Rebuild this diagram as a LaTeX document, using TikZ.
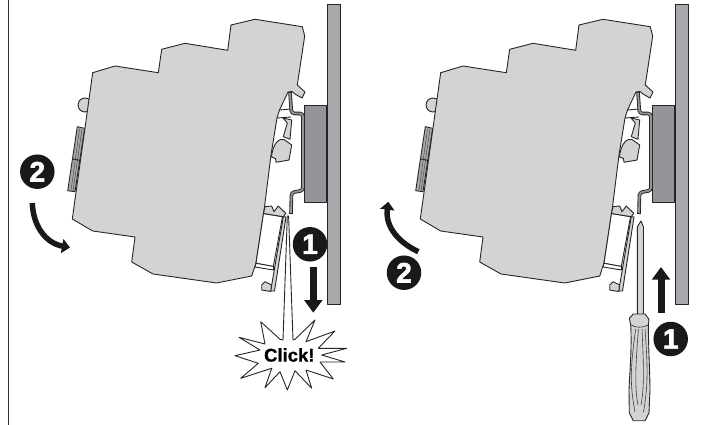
\documentclass[tikz,border=0pt]{standalone}
\usepackage{fontspec}
\setmainfont{Liberation Sans}
\newfontfamily\badgefont[BoldFeatures={FakeBold=2.2}]{Liberation Sans}
\newfontfamily\clickfont[BoldFeatures={FakeBold=0.8}]{Liberation Sans}
\usetikzlibrary{arrows.meta}

\definecolor{bodygray}{HTML}{D1D3D4}
\definecolor{panelgray}{HTML}{A7A9AC}
\definecolor{railgray}{HTML}{939598}

\tikzset{
  outline/.style={draw=black!85, line width=0.9pt, line join=round},
  badge/.style={circle, fill=black!90, text=white, minimum size=34.5pt, inner sep=0pt, font=\badgefont\fontsize{28}{28}\selectfont\bfseries},
  straightarrow/.style={black!90, line width=7pt, -{Triangle[width=17.5pt,length=12.5pt]}},
  turnarrow/.style={black!90, line width=5.5pt, -{Triangle[width=14pt,length=8pt]}},
}

\begin{document}
\begin{tikzpicture}[x=1pt, y=-1pt]
\useasboundingbox (0,0) rectangle (702,425);

% Left border line
\draw[black!80, line width=0.9pt] (8.5,0) -- (8.5,425);

% The two mounted modules
\foreach \dx in {0,348} {
\begin{scope}[shift={(\dx,0)}]

% Panel and mounting block
\draw[outline, fill=panelgray] (327.7,4) rectangle (340.7,304);
\draw[outline, fill=railgray] (304.3,105.3) rectangle (326.7,202.3);

% Knob and left clip
\draw[outline, fill=bodygray] (85,105) circle[radius=7];
\draw[outline, fill=panelgray] (77.3,126.7) -- (84.7,128.3) -- (75,191.7) -- (67.7,190.7) -- cycle;
\draw[line width=0.5pt, black!70] (79.5,129) -- (71,190.5) (82,129) -- (73,191);
\draw[line width=0.9pt, black!85] (73,159) -- (80.5,160.5);

% Housing
\draw[outline, fill=bodygray] (92.7,72.7) -- (115,66) -- (158.3,72.7) -- (161.7,49.3) -- (185,43.3)
  -- (227.7,50.3) -- (231,25) -- (255,19.3) -- (302.3,26.7) -- (304.7,36) -- (297.3,85)
  -- (305,92) -- (302,98) -- (295,94) -- (292,91.5) -- (288,92) -- (279.5,110) -- (277,118)
  -- (271,155) -- (264.5,207) -- (256,263) -- (251.7,276) -- (216.7,283) -- (153,274)
  -- (131.7,262) -- (135,237) -- (92.7,231) -- (72.3,219) -- cycle;

% Upper latch
\draw[outline] (279.5,110) -- (291,109) (277,118) -- (291,117);
\draw[outline, fill=bodygray] (291.7,120) -- (290,139.3) -- (283.3,136.7) -- (287.3,123) -- (283,118) -- cycle;
\draw[outline, fill=bodygray] (271.5,157) .. controls (273,142) and (280,138) .. (284,139.5)
  -- (291.7,145) -- (289,160) -- (276,162.3) -- (275.5,158.5) -- cycle;

% Lower slider
\draw[outline, fill=white] (263.5,213.5) -- (282.5,216.7) -- (273.3,266.5) -- (256,263.3) -- cycle;
\draw[outline, fill=bodygray] (265,206.7) -- (271.7,206) -- (274,211.7) -- (278.3,206) -- (285.7,213.3) -- (283.3,216.7) -- (263.5,213.5) -- cycle;
\draw[outline, fill=bodygray] (283.3,216.7) -- (286,217) -- (274.5,291) -- (270.7,291) -- cycle;
\draw[outline, fill=white] (256,263.3) -- (273.8,266.5) -- (273.3,270) -- (255,267) -- cycle;
\draw[outline, fill=bodygray] (261.7,285) -- (265,281.7) -- (271.5,285) -- (270.7,291.5) -- (261.7,290) -- cycle;

% Rail profile
\draw[rounded corners=3pt, line width=3.6pt, black!85] (290,92) -- (291.5,113.5) -- (303,113.5) -- (303,190.5) -- (291.5,192.5) -- (291,214);
\draw[rounded corners=3pt, line width=1.8pt, railgray] (290,92.8) -- (291.5,113.5) -- (303,113.5) -- (303,190.5) -- (291.5,192.5) -- (291,213.2);

\end{scope}
}

% Click burst
\draw[outline, fill=white] (260.7,321.7) -- (280,339.3) -- (283,340) -- (287.3,216) -- (288.6,216) -- (293,340) -- (295,339.3)
  -- (315,320) -- (306,341.7) -- (335,331) -- (318.3,348.3) -- (346.7,348.3) -- (321.7,355)
  -- (345,362) -- (320,362) -- (333.3,379) -- (306,370) -- (311.7,388.3) -- (295,370.7)
  -- (287.3,390) -- (280,371.7) -- (265,387.7) -- (271.7,368.3) -- (240.7,378.3) -- (258.3,363.3)
  -- (235,355.7) -- (260,350) -- (239,337.3) -- (265,344) -- cycle;
\node (click) at (289.3,355) {\clickfont\fontsize{18.5}{18.5}\selectfont\bfseries Click!};

% Screwdriver
\draw[outline, fill=bodygray] (641,221) -- (643.5,227) -- (643.5,315) -- (637.3,315) -- (637.3,227) -- cycle;
\draw[outline, fill=bodygray] (633.3,314) -- (645,314) -- (649,319.3) -- (648.3,325)
  .. controls (648.5,350) and (650,375) .. (650,390) -- (649,413) -- (645,420.7) -- (633.3,420.7)
  -- (629.3,413) -- (629,390) .. controls (629.5,375) and (632,350) .. (630.7,325) -- (629.3,318.3) -- cycle;
\draw[line width=0.6pt, black!85] (631,325) .. controls (636,328) and (643,328) .. (648.3,325);
\draw[line width=0.6pt, black!75] (635.7,329) .. controls (630,370) and (630,385) .. (635,412)
  (645,329) .. controls (648,370) and (648,385) .. (643.5,412)
  (638.5,329) .. controls (635,370) and (635,390) .. (638,405)
  (642,329) .. controls (644,370) and (644,390) .. (641,405);

% First step, left picture
\node[badge] (stepA) at (310,244.3) {1};
\coordinate (downA) at (313.3,266.7);
\coordinate (downB) at (313.3,312.7);
\draw[straightarrow] (downA) -- (downB);

% Second step, left picture
\node[badge] (stepB) at (37.3,171.7) {2};
\coordinate (turnA) at (32.3,203);
\coordinate (turnB) at (70,247.5);
\draw[turnarrow] (turnA) .. controls (33,225) and (45,243) .. (turnB);

% First step, right picture
\node[badge] (stepC) at (670.7,339) {1};
\coordinate (upA) at (661,313);
\coordinate (upB) at (661,267);
\draw[straightarrow] (upA) -- (upB);

% Second step, right picture
\node[badge] (stepD) at (404,272.7) {2};
\coordinate (turnC) at (418.3,251.7);
\coordinate (turnD) at (388.3,201.7);
\draw[turnarrow] (turnC) .. controls (400,243) and (385,228) .. (turnD);

\end{tikzpicture}
\end{document}
